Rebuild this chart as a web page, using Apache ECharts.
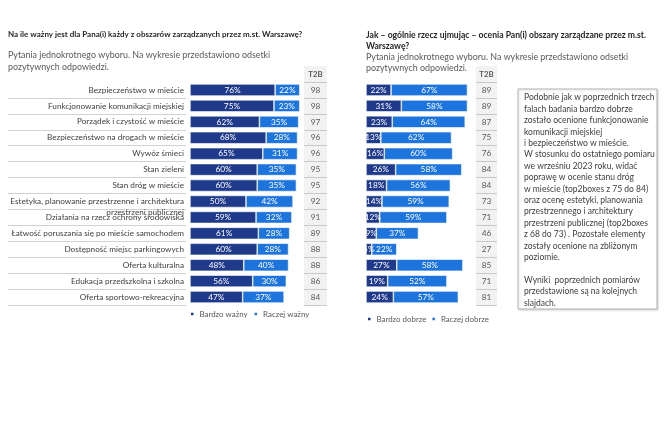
<!DOCTYPE html>
<html><head><meta charset="utf-8">
<script src="https://cdn.jsdelivr.net/npm/echarts@6/dist/echarts.min.js"></script>
<style>html,body{margin:0;padding:0;background:#fff}#c{width:664px;height:442px}</style>
</head><body><div id="c"></div>
<script>
const categories = [
  'Bezpieczeństwo w mieście',
  'Funkcjonowanie komunikacji miejskiej',
  'Porządek i czystość w mieście',
  'Bezpieczeństwo na drogach w mieście',
  'Wywóz śmieci',
  'Stan zieleni',
  'Stan dróg w mieście',
  'Estetyka, planowanie przestrzenne i architektura\nprzestrzeni publicznej',
  'Działania na rzecz ochrony środowiska',
  'Łatwość poruszania się po mieście samochodem',
  'Dostępność miejsc parkingowych',
  'Oferta kulturalna',
  'Edukacja przedszkolna i szkolna',
  'Oferta sportowo-rekreacyjna'
];
const veryImportant   = [76, 75, 62, 68, 65, 60, 60, 50, 59, 61, 60, 48, 56, 47];
const ratherImportant = [22, 23, 35, 28, 31, 35, 35, 42, 32, 28, 28, 40, 30, 37];
const t2bImportance   = [98, 98, 97, 96, 96, 95, 95, 92, 91, 89, 88, 88, 86, 84];
const veryGood        = [22, 31, 23, 13, 16, 26, 18, 14, 12, 9, 5, 27, 19, 24];
const ratherGood      = [67, 58, 64, 62, 60, 58, 56, 59, 59, 37, 22, 58, 52, 57];
const t2bRating       = [89, 89, 87, 75, 76, 84, 84, 73, 71, 46, 27, 85, 71, 81];
const t2bHeader = 'T2B';
const seriesNamesL = ['Bardzo ważny', 'Raczej ważny'];
const seriesNamesR = ['Bardzo dobrze', 'Raczej dobrze'];
const titleL = 'Na ile ważny jest dla Pana(i) każdy z obszarów zarządzanych przez m.st. Warszawę?';
const subL = 'Pytania jednokrotnego wyboru. Na wykresie przedstawiono odsetki\npozytywnych odpowiedzi.';
const titleR = 'Jak – ogólnie rzecz ujmując – ocenia Pan(i) obszary zarządzane przez m.st.\nWarszawę?';
const subR = 'Pytania jednokrotnego wyboru. Na wykresie przedstawiono odsetki\npozytywnych odpowiedzi.';
const noteText = [
  'Podobnie jak w poprzednich trzech',
  'falach badania bardzo dobrze',
  'zostało ocenione funkcjonowanie',
  'komunikacji miejskiej',
  'i bezpieczeństwo w mieście.',
  'W stosunku do ostatniego pomiaru',
  'we wrześniu 2023 roku, widać',
  'poprawę w ocenie stanu dróg',
  'w mieście (top2boxes z 75 do 84)',
  'oraz ocenę estetyki, planowania',
  'przestrzennego i architektury',
  'przestrzeni publicznej (top2boxes',
  'z 68 do 73) . Pozostałe elementy',
  'zostały ocenione na zbliżonym',
  'poziomie.',
  '',
  'Wyniki  poprzednich pomiarów',
  'przedstawione są na kolejnych',
  'slajdach.'
];

const FONT = 'Lato';
const DARK = '#1f3a8a';
const LIGHT = '#1c74dc';
const GRAY_TXT = '#595959';
const TOP = 82, ROWH = 15.93, N = categories.length;
const H = ROWH * N;

const chart = echarts.init(document.getElementById('c'), null, {renderer: 'canvas'});

function barSeries(name, data, color, xi) {
  return {
    type: 'bar', name, data, stack: 'g' + xi, xAxisIndex: xi, yAxisIndex: xi,
    barWidth: 12,
    itemStyle: {color, borderColor: '#fff', borderWidth: 0.6},
    label: {show: true, position: 'inside', formatter: '{c}%', color: '#fff',
      fontFamily: FONT, fontSize: 8.3},
    emphasis: {disabled: true}, animation: false
  };
}
const hiddenX = (gi) => ({type: 'value', gridIndex: gi, min: 0, max: 100, show: false});
const t2bAxis = (gi, data, margin) => ({
  type: 'category', gridIndex: gi, data, inverse: true,
  axisLine: {show: false}, axisTick: {show: false},
  axisLabel: {inside: true, margin, align: 'center', fontFamily: FONT, fontSize: 8.3, color: GRAY_TXT,
    formatter: v => v === t2bHeader ? '{h|' + v + '}' : v,
    rich: {h: {fontWeight: 'bold', fontFamily: FONT, fontSize: 7.8, color: GRAY_TXT}}},
  splitArea: {show: true, areaStyle: {color: ['#f2f2f2']}},
  splitLine: {show: true, showMinLine: false, lineStyle: {color: '#c8c8c8', width: 1}}
});

const option = {
  animation: false,
  textStyle: {fontFamily: FONT},
  title: [
    {text: titleL, left: 8, top: 30, padding: 0, textStyle: {fontFamily: FONT, fontSize: 8, fontWeight: 'bold', color: '#262626'}},
    {text: subL, left: 8, top: 49, padding: 0, textStyle: {fontFamily: FONT, fontSize: 8.9, fontWeight: 'normal', color: GRAY_TXT, lineHeight: 12}},
    {text: titleR, left: 366, top: 29.5, padding: 0, textStyle: {fontFamily: FONT, fontSize: 8.6, fontWeight: 'bold', color: '#262626', lineHeight: 11}},
    {text: subR, left: 366, top: 51, padding: 0, textStyle: {fontFamily: FONT, fontSize: 8.9, fontWeight: 'normal', color: GRAY_TXT, lineHeight: 11.5}}
  ],
  legend: [
    {data: seriesNamesL, left: 189, top: 310, padding: 0, icon: 'rect', itemWidth: 4.5, itemHeight: 4.5, itemGap: 5,
      textStyle: {fontFamily: FONT, fontSize: 7.9, color: GRAY_TXT}},
    {data: seriesNamesR, left: 366, top: 315, padding: 0, icon: 'rect', itemWidth: 4.5, itemHeight: 4.5, itemGap: 4,
      textStyle: {fontFamily: FONT, fontSize: 7.9, color: GRAY_TXT}}
  ],
  grid: [
    {left: 190, top: TOP, width: 112, height: H},
    {left: 366, top: TOP, width: 114, height: H},
    {left: 8, top: TOP, width: 178, height: H},
    {left: 304, top: TOP - ROWH, width: 23, height: H + ROWH},
    {left: 476, top: TOP - ROWH, width: 21, height: H + ROWH}
  ],
  xAxis: [hiddenX(0), hiddenX(1), hiddenX(2), hiddenX(3), hiddenX(4)],
  yAxis: [
    {type: 'category', gridIndex: 0, data: categories, inverse: true,
      axisLine: {show: false}, axisTick: {show: false},
      axisLabel: {margin: 6, fontFamily: FONT, fontSize: 8.2, color: '#404040', lineHeight: 11,
        formatter: v => v.indexOf('\n') >= 0 ? '\n' + v : v}},
    {type: 'category', gridIndex: 1, data: categories, inverse: true, show: false},
    {type: 'category', gridIndex: 2, data: categories, inverse: true,
      axisLine: {show: false}, axisTick: {show: false}, axisLabel: {show: false},
      splitLine: {show: true, showMinLine: false, lineStyle: {color: '#d0d0d0', width: 1}}},
    t2bAxis(3, [t2bHeader].concat(t2bImportance), 11.5),
    t2bAxis(4, [t2bHeader].concat(t2bRating), 10.5)
  ],
  series: [
    barSeries(seriesNamesL[0], veryImportant, DARK, 0),
    barSeries(seriesNamesL[1], ratherImportant, LIGHT, 0),
    barSeries(seriesNamesR[0], veryGood, DARK, 1),
    barSeries(seriesNamesR[1], ratherGood, LIGHT, 1)
  ],
  graphic: [
    {type: 'rect', shape: {x: 518, y: 89, width: 139, height: 220},
      style: {fill: '#fff', stroke: '#b4b4b4', lineWidth: 1, shadowBlur: 2, shadowColor: 'rgba(0,0,0,0.15)', shadowOffsetX: 1, shadowOffsetY: 1}},
    {type: 'text', left: 524, top: 92,
      style: {text: noteText.join('\n'), font: '8.5px Lato', fill: '#404040', lineHeight: 11.4}}
  ]
};
chart.setOption(option);
</script>
</body></html>
